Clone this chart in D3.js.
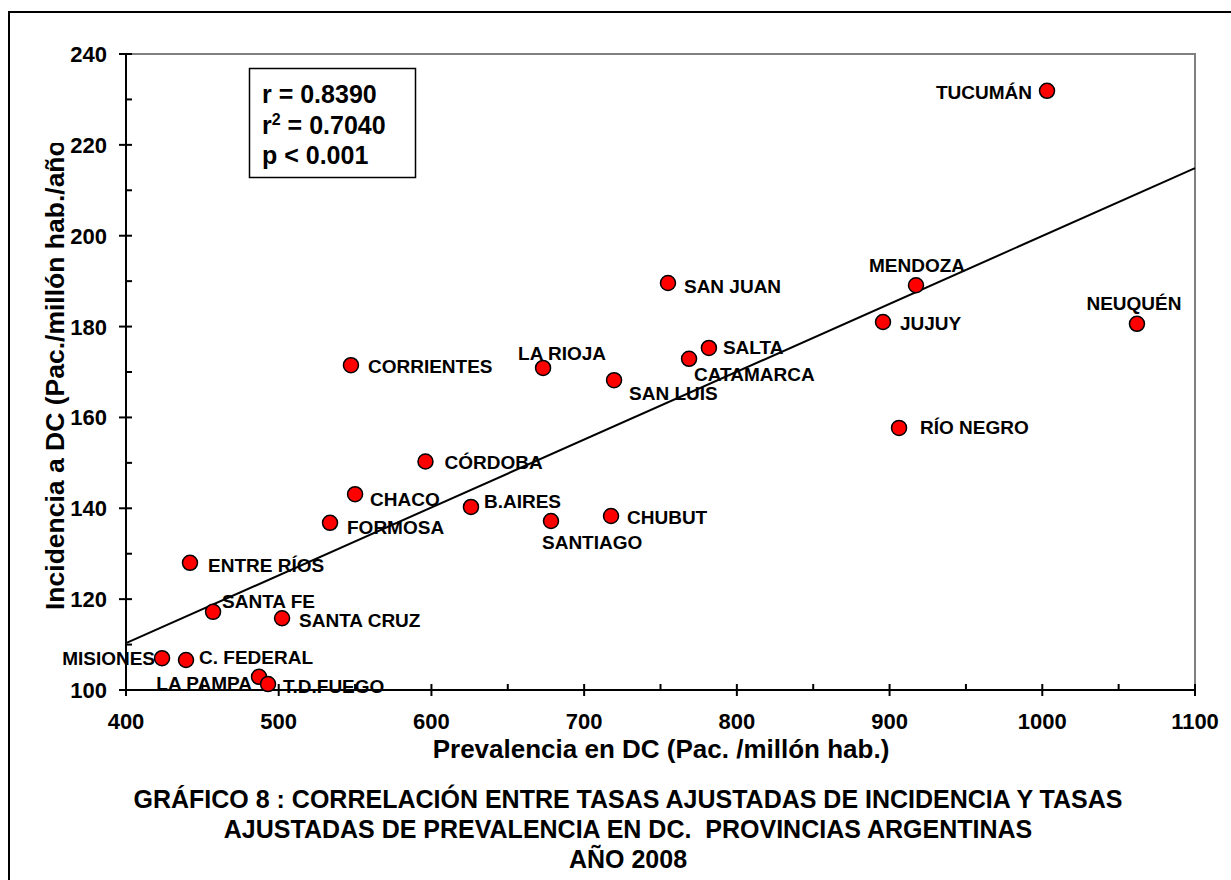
<!DOCTYPE html>
<html>
<head>
<meta charset="utf-8">
<script src="https://cdn.jsdelivr.net/npm/d3@7"></script>
<style>
  html, body { margin: 0; padding: 0; background: #fff; }
  svg { display: block; font-family: "Liberation Sans", Arial, sans-serif; font-weight: bold; }
</style>
</head>
<body>
<svg id="chart" width="1231" height="880"></svg>
<script>
// ---- data ----
const provinces = ["TUCUMÁN","MENDOZA","NEUQUÉN","JUJUY","RÍO NEGRO","SAN JUAN","SALTA","CATAMARCA",
  "SAN LUIS","LA RIOJA","CORRIENTES","CÓRDOBA","CHACO","B.AIRES","SANTIAGO","CHUBUT","FORMOSA",
  "ENTRE RÍOS","SANTA FE","SANTA CRUZ","MISIONES","C. FEDERAL","LA PAMPA","T.D.FUEGO"];
const prevalence = [1003.1, 917.3, 1062, 895.7, 906.2, 754.9, 781.7, 768.7,
  719.6, 673.1, 547.3, 596.1, 550, 625.9, 678.3, 717.6, 533.6,
  441.9, 457, 502.2, 423.6, 439.3, 487.1, 493];
const incidence = [231.9, 189.1, 180.6, 181, 157.7, 189.6, 175.3, 172.9,
  168.2, 170.9, 171.5, 150.3, 143.1, 140.3, 137.2, 138.3, 136.8,
  128, 117.2, 115.8, 107, 106.6, 102.9, 101.3];
const xTicks = [400, 500, 600, 700, 800, 900, 1000, 1100];
const yTicks = [100, 120, 140, 160, 180, 200, 220, 240];
const fitIntercept = 50.54;
const fitSlope = 0.1494;
const statLines = ["r = 0.8390", "r² = 0.7040", "p < 0.001"];
const xTitle = "Prevalencia en DC (Pac. /millón hab.)";
const yTitle = "Incidencia a DC (Pac./millón hab./año)";
const titleLines = ["GRÁFICO 8 : CORRELACIÓN ENTRE TASAS AJUSTADAS DE INCIDENCIA Y TASAS",
  "AJUSTADAS DE PREVALENCIA EN DC.  PROVINCIAS ARGENTINAS", "AÑO 2008"];

// ---- label placement (layout only) ----
const labelPlace = {
  "TUCUMÁN": [-15, 8, "end"], "MENDOZA": [1, -13, "middle"], "NEUQUÉN": [-3, -14, "middle"],
  "JUJUY": [17, 8, "start"], "RÍO NEGRO": [21, 6, "start"], "SAN JUAN": [16, 10, "start"],
  "SALTA": [14, 6, "start"], "CATAMARCA": [5, 22, "start"], "SAN LUIS": [15, 20, "start"],
  "LA RIOJA": [-25, -8, "start"], "CORRIENTES": [17, 8, "start"], "CÓRDOBA": [19, 8, "start"],
  "CHACO": [15, 12, "start"], "B.AIRES": [13, 1, "start"], "SANTIAGO": [-9, 28, "start"],
  "CHUBUT": [16, 8, "start"], "FORMOSA": [17, 11, "start"], "ENTRE RÍOS": [18, 9, "start"],
  "SANTA FE": [9, -4, "start"], "SANTA CRUZ": [17, 9, "start"], "MISIONES": [-7, 7, "end"],
  "C. FEDERAL": [13, 4, "start"], "LA PAMPA": [-7, 13, "end"], "T.D.FUEGO": [15, 9, "start"]
};

const svg = d3.select("#chart");
const x = d3.scaleLinear().domain([400, 1100]).range([126, 1195]);
const y = d3.scaleLinear().domain([100, 240]).range([690, 54]);

// outer frame
svg.append("path").attr("d", "M9,880 L9,12 L1231,12").attr("fill", "none")
  .attr("stroke", "#000").attr("stroke-width", 2);

// plot frame top/right (grey)
svg.append("path").attr("d", `M${x(400)},${y(240)} L${x(1100)},${y(240)} L${x(1100)},${y(100)}`)
  .attr("fill", "none").attr("stroke", "#808080").attr("stroke-width", 2);

// y axis
const yMinor = d3.range(110, 240, 20);
svg.append("g").selectAll("line").data(yMinor).join("line")
  .attr("x1", x(400)).attr("x2", x(400) + 6).attr("y1", d => y(d)).attr("y2", d => y(d))
  .attr("stroke", "#000").attr("stroke-width", 2);
svg.append("g").selectAll("line").data(yTicks).join("line")
  .attr("x1", x(400) - 7).attr("x2", x(400) + 6).attr("y1", d => y(d)).attr("y2", d => y(d))
  .attr("stroke", "#000").attr("stroke-width", 2);
svg.append("g").selectAll("text").data(yTicks).join("text")
  .attr("x", 107).attr("y", d => y(d) + 8).attr("text-anchor", "end")
  .attr("font-size", 22).text(d => d);

// x axis
const xMinor = d3.range(450, 1100, 100);
svg.append("g").selectAll("line").data(xMinor).join("line")
  .attr("x1", d => x(d)).attr("x2", d => x(d)).attr("y1", y(100)).attr("y2", y(100) - 6)
  .attr("stroke", "#000").attr("stroke-width", 2);
svg.append("g").selectAll("line").data(xTicks).join("line")
  .attr("x1", d => x(d)).attr("x2", d => x(d)).attr("y1", y(100) - 6).attr("y2", y(100) + 6)
  .attr("stroke", "#000").attr("stroke-width", 2);
svg.append("g").selectAll("text").data(xTicks).join("text")
  .attr("x", d => x(d)).attr("y", 729).attr("text-anchor", "middle")
  .attr("font-size", 22).text(d => d);

svg.append("line").attr("x1", x(400)).attr("x2", x(400)).attr("y1", y(240)).attr("y2", y(100) + 1)
  .attr("stroke", "#000").attr("stroke-width", 2);
svg.append("line").attr("x1", x(400) - 1).attr("x2", x(1100) + 1).attr("y1", y(100)).attr("y2", y(100))
  .attr("stroke", "#000").attr("stroke-width", 2);

// regression line
svg.append("line")
  .attr("x1", x(400)).attr("y1", y(fitIntercept + fitSlope * 400))
  .attr("x2", x(1100)).attr("y2", y(fitIntercept + fitSlope * 1100))
  .attr("stroke", "#000").attr("stroke-width", 2);

// points
const pts = provinces.map((p, i) => ({ name: p, px: prevalence[i], inc: incidence[i] }));
svg.append("g").selectAll("circle").data(pts).join("circle")
  .attr("cx", d => x(d.px)).attr("cy", d => y(d.inc)).attr("r", 7.5)
  .attr("fill", "#ff0000").attr("stroke", "#000").attr("stroke-width", 1.5);

svg.append("g").selectAll("text").data(pts).join("text")
  .attr("x", d => x(d.px) + labelPlace[d.name][0])
  .attr("y", d => y(d.inc) + labelPlace[d.name][1])
  .attr("text-anchor", d => labelPlace[d.name][2])
  .attr("font-size", 19).text(d => d.name);

// stats box
svg.append("rect").attr("x", 249.5).attr("y", 68.5).attr("width", 166).attr("height", 109)
  .attr("fill", "#fff").attr("stroke", "#000").attr("stroke-width", 1.5);
const st = svg.append("g");
st.append("text").attr("x", 262).attr("y", 103).attr("font-size", 25).text(statLines[0]);
const l2 = st.append("text").attr("x", 262).attr("y", 134).attr("font-size", 25);
l2.append("tspan").text("r");
l2.append("tspan").attr("font-size", 16).attr("dy", -9).text("2");
l2.append("tspan").attr("dy", 9).text(statLines[1].slice(2));
st.append("text").attr("x", 262).attr("y", 164).attr("font-size", 25).text(statLines[2]);

// axis titles
svg.append("text").attr("x", 661).attr("y", 758).attr("text-anchor", "middle")
  .attr("font-size", 26).text(xTitle);
svg.append("clipPath").attr("id", "yclip").append("rect")
  .attr("x", 0).attr("y", 143).attr("width", 120).attr("height", 700);
svg.append("g").attr("clip-path", "url(#yclip)").append("text")
  .attr("transform", "translate(64,610) rotate(-90)")
  .attr("text-anchor", "start").attr("font-size", 26.5).text(yTitle);

// chart title
svg.append("g").selectAll("text").data(titleLines).join("text")
  .attr("x", 628).attr("y", (d, i) => 808 + i * 30).attr("text-anchor", "middle")
  .style("white-space", "pre")
  .attr("font-size", 25).text(d => d);
</script>
</body>
</html>
